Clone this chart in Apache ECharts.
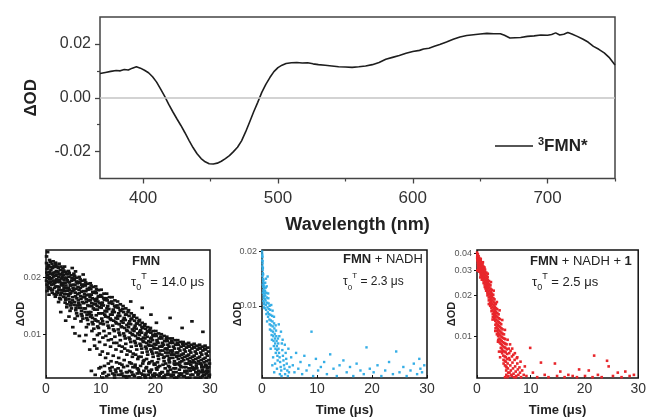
<!DOCTYPE html>
<html><head><meta charset="utf-8">
<script src="https://cdn.jsdelivr.net/npm/echarts@6/dist/echarts.min.js"></script>
<style>html,body{margin:0;padding:0;background:#fff}#c{width:649px;height:418px}</style>
</head><body><div id="c"></div>
<script>
const FONT = 'Liberation Sans, Arial, Helvetica, sans-serif';

// Top panel: transient absorption spectrum of 3FMN*  [wavelength nm, ΔOD]
const spectrum = [[368,0.0090],[372,0.0094],[376,0.0098],[380,0.0101],[383,0.0100],[386,0.0105],[389,0.0103],[392,0.0110],[395,0.0115],[398,0.0110],[401,0.0102],[404,0.0093],[407,0.0078],[410,0.0058],[413,0.0032],[416,0.0005],[419,-0.0025],[422,-0.0052],[425,-0.0078],[428,-0.0103],[431,-0.0130],[434,-0.0158],[437,-0.0185],[440,-0.0208],[443,-0.0226],[446,-0.0238],[449,-0.0245],[452,-0.0246],[455,-0.0243],[458,-0.0236],[461,-0.0226],[464,-0.0215],[467,-0.0200],[470,-0.0184],[473,-0.0160],[476,-0.0127],[479,-0.0090],[482,-0.0052],[485,-0.0017],[488,0.0020],[491,0.0050],[494,0.0075],[497,0.0097],[500,0.0112],[503,0.0121],[506,0.0127],[510,0.0130],[514,0.0131],[518,0.0129],[522,0.0130],[526,0.0126],[530,0.0123],[535,0.0121],[540,0.0118],[545,0.0115],[550,0.0114],[555,0.0113],[560,0.0115],[565,0.0118],[570,0.0123],[575,0.0131],[580,0.0143],[585,0.0150],[590,0.0157],[595,0.0165],[600,0.0172],[605,0.0176],[608,0.0181],[612,0.0184],[616,0.0191],[620,0.0198],[625,0.0207],[630,0.0217],[635,0.0226],[640,0.0231],[645,0.0234],[650,0.0237],[655,0.0239],[660,0.0238],[665,0.0238],[668,0.0232],[672,0.0222],[676,0.0223],[680,0.0224],[685,0.0228],[690,0.0230],[695,0.0233],[700,0.0232],[703,0.0235],[706,0.0241],[709,0.0233],[712,0.0236],[715,0.0242],[718,0.0237],[722,0.0228],[726,0.0218],[730,0.0207],[734,0.0191],[738,0.0180],[742,0.0167],[746,0.0148],[750,0.0122]];
const spectrumXMajor = [400,500,600,700];
const spectrumXMinor = [450,550,650,750];
const spectrumYMajor = [-0.02,0,0.02];
const spectrumYMinor = [-0.01,0.01];

// Bottom panels: decay traces [time µs, ΔOD]
const decayXTicks = [0,10,20,30];
const fmnYTicks = [0.01,0.02];
const fmnNadhYTicks = [0.01,0.02];
const fmnNadhCatYTicks = [0.01,0.02,0.03,0.04];

const fmnDecay = [[0.1,0.0238],[0.2,0.0221],[0.3,0.0205],[0.1,0.0192],[0.4,0.0178],[0.2,0.0169],[0.5,0.0229],[0.6,0.0213],[0.3,0.0199],[0.7,0.0186],[0.5,0.0174],[0.8,0.0241],[0.9,0.0218],[0.6,0.0201],[0.9,0.0189],[1.0,0.0171],[0.4,0.0232],[0.8,0.0209],[0.7,0.0195],[0.2,0.0183],[0.1,0.0258],[0.3,0.0272],
[1.1,0.0235],[1.2,0.0224],[1.3,0.0211],[1.1,0.0198],[1.4,0.0184],[1.2,0.0172],[1.5,0.0163],[1.6,0.0227],[1.7,0.0204],[1.5,0.0192],[1.8,0.0179],[1.9,0.0216],[1.6,0.0187],[2.0,0.0168],[1.3,0.0243],[1.8,0.0232],[1.4,0.0202],[1.9,0.0195],[1.7,0.0158],
[2.1,0.0228],[2.2,0.0214],[2.3,0.0201],[2.1,0.0189],[2.4,0.0177],[2.2,0.0166],[2.5,0.0155],[2.6,0.0219],[2.7,0.0207],[2.5,0.0194],[2.8,0.0183],[2.9,0.0171],[2.6,0.0161],[3.0,0.0212],[2.4,0.0236],[2.8,0.0197],[2.3,0.0148],[2.9,0.0186],
[3.1,0.0223],[3.2,0.0206],[3.3,0.0193],[3.1,0.0181],[3.4,0.0169],[3.2,0.0158],[3.5,0.0147],[3.6,0.0214],[3.7,0.0199],[3.5,0.0187],[3.8,0.0175],[3.9,0.0163],[3.6,0.0152],[4.0,0.0208],[3.4,0.0228],[3.8,0.0139],[3.3,0.0176],[3.9,0.0193],
[4.1,0.0216],[4.2,0.0201],[4.3,0.0188],[4.1,0.0176],[4.4,0.0164],[4.2,0.0153],[4.5,0.0142],[4.6,0.0205],[4.7,0.0192],[4.5,0.0181],[4.8,0.0169],[4.9,0.0157],[4.6,0.0146],[5.0,0.0197],[4.4,0.0133],[4.8,0.0224],[4.3,0.0172],
[5.1,0.0209],[5.2,0.0194],[5.3,0.0182],[5.1,0.0171],[5.4,0.0159],[5.2,0.0148],[5.5,0.0138],[5.6,0.0199],[5.7,0.0186],[5.5,0.0174],[5.8,0.0163],[5.9,0.0151],[5.6,0.0129],[6.0,0.0189],[5.4,0.0215],[5.8,0.0142],[5.3,0.0121],
[6.1,0.0201],[6.2,0.0187],[6.3,0.0176],[6.1,0.0165],[6.4,0.0154],[6.2,0.0143],[6.5,0.0133],[6.6,0.0192],[6.7,0.0179],[6.5,0.0168],[6.8,0.0157],[6.9,0.0146],[6.6,0.0125],[7.0,0.0183],[6.4,0.0117],[6.8,0.0207],[6.3,0.0138],
[7.1,0.0194],[7.2,0.0181],[7.3,0.0169],[7.1,0.0158],[7.4,0.0148],[7.2,0.0137],[7.5,0.0127],[7.6,0.0185],[7.7,0.0172],[7.5,0.0161],[7.8,0.0151],[7.9,0.0141],[7.6,0.0119],[8.0,0.0176],[7.4,0.0109],[7.8,0.0131],[7.3,0.0099],
[8.1,0.0186],[8.2,0.0173],[8.3,0.0162],[8.1,0.0151],[8.4,0.0141],[8.2,0.0131],[8.5,0.0122],[8.6,0.0178],[8.7,0.0166],[8.5,0.0155],[8.8,0.0145],[8.9,0.0135],[8.6,0.0113],[9.0,0.0168],[8.4,0.0104],[8.8,0.0094],[8.3,0.0126],[8.9,0.0087],
[9.1,0.0179],[9.2,0.0165],[9.3,0.0154],[9.1,0.0144],[9.4,0.0135],[9.2,0.0126],[9.5,0.0117],[9.6,0.0171],[9.7,0.0159],[9.5,0.0149],[9.8,0.0139],[9.9,0.0129],[9.6,0.0108],[10.0,0.0161],[9.4,0.0099],[9.8,0.0091],[9.3,0.0084],[9.9,0.0078],
[10.1,0.0172],[10.2,0.0158],[10.3,0.0147],[10.1,0.0138],[10.4,0.0129],[10.2,0.0121],[10.5,0.0113],[10.6,0.0164],[10.7,0.0152],[10.5,0.0142],[10.8,0.0133],[10.9,0.0124],[10.6,0.0104],[11.0,0.0155],[10.4,0.0096],[10.8,0.0088],[10.3,0.0081],[10.9,0.0075],[10.7,0.0068],
[11.1,0.0164],[11.2,0.0151],[11.3,0.0141],[11.1,0.0132],[11.4,0.0123],[11.2,0.0116],[11.5,0.0108],[11.6,0.0157],[11.7,0.0146],[11.5,0.0136],[11.8,0.0127],[11.9,0.0119],[11.6,0.0101],[12.0,0.0149],[11.4,0.0093],[11.8,0.0086],[11.3,0.0079],[11.9,0.0072],[11.7,0.0066],
[12.1,0.0157],[12.2,0.0145],[12.3,0.0135],[12.1,0.0127],[12.4,0.0118],[12.2,0.0111],[12.5,0.0104],[12.6,0.0151],[12.7,0.0139],[12.5,0.0131],[12.8,0.0122],[12.9,0.0114],[12.6,0.0097],[13.0,0.0142],[12.4,0.0090],[12.8,0.0083],[12.3,0.0077],[12.9,0.0071],[12.7,0.0065],[12.2,0.0062],
[13.1,0.0149],[13.2,0.0138],[13.3,0.0129],[13.1,0.0121],[13.4,0.0113],[13.2,0.0106],[13.5,0.0099],[13.6,0.0144],[13.7,0.0133],[13.5,0.0125],[13.8,0.0117],[13.9,0.0109],[13.6,0.0093],[14.0,0.0136],[13.4,0.0087],[13.8,0.0081],[13.3,0.0075],[13.9,0.0069],[13.7,0.0064],[13.2,0.0061],
[14.1,0.0141],[14.2,0.0131],[14.3,0.0122],[14.1,0.0115],[14.4,0.0108],[14.2,0.0101],[14.5,0.0095],[14.6,0.0137],[14.7,0.0127],[14.5,0.0119],[14.8,0.0112],[14.9,0.0104],[14.6,0.0089],[15.0,0.0131],[14.4,0.0084],[14.8,0.0078],[14.3,0.0073],[14.9,0.0068],[14.7,0.0063],[14.2,0.0060],
[15.1,0.0134],[15.2,0.0125],[15.3,0.0117],[15.1,0.0109],[15.4,0.0102],[15.2,0.0096],[15.5,0.0091],[15.6,0.0129],[15.7,0.0121],[15.5,0.0113],[15.8,0.0106],[15.9,0.0099],[15.6,0.0086],[16.0,0.0124],[15.4,0.0081],[15.8,0.0076],[15.3,0.0071],[15.9,0.0067],[15.7,0.0063],[15.2,0.0060],[15.5,0.0149],
[16.1,0.0126],[16.2,0.0118],[16.3,0.0111],[16.1,0.0104],[16.4,0.0098],[16.2,0.0092],[16.5,0.0087],[16.6,0.0122],[16.7,0.0114],[16.5,0.0107],[16.8,0.0101],[16.9,0.0095],[16.6,0.0083],[17.0,0.0117],[16.4,0.0078],[16.8,0.0074],[16.3,0.0069],[16.9,0.0065],[16.7,0.0062],[16.2,0.0060],
[17.1,0.0119],[17.2,0.0112],[17.3,0.0105],[17.1,0.0099],[17.4,0.0094],[17.2,0.0089],[17.5,0.0084],[17.6,0.0115],[17.7,0.0108],[17.5,0.0102],[17.8,0.0096],[17.9,0.0091],[17.6,0.0080],[18.0,0.0111],[17.4,0.0076],[17.8,0.0072],[17.3,0.0068],[17.9,0.0064],[17.7,0.0061],[17.2,0.0059],[17.6,0.0138],
[18.1,0.0113],[18.2,0.0107],[18.3,0.0101],[18.1,0.0095],[18.4,0.0090],[18.2,0.0086],[18.5,0.0081],[18.6,0.0109],[18.7,0.0103],[18.5,0.0097],[18.8,0.0092],[18.9,0.0087],[18.6,0.0078],[19.0,0.0105],[18.4,0.0074],[18.8,0.0070],[18.3,0.0066],[18.9,0.0063],[18.7,0.0061],[18.2,0.0059],
[19.1,0.0108],[19.2,0.0102],[19.3,0.0096],[19.1,0.0091],[19.4,0.0087],[19.2,0.0083],[19.5,0.0079],[19.6,0.0104],[19.7,0.0098],[19.5,0.0093],[19.8,0.0089],[19.9,0.0084],[19.6,0.0076],[20.0,0.0100],[19.4,0.0072],[19.8,0.0069],[19.3,0.0065],[19.9,0.0062],[19.7,0.0060],[19.2,0.0127],
[20.1,0.0104],[20.2,0.0098],[20.3,0.0093],[20.1,0.0088],[20.4,0.0084],[20.2,0.0080],[20.5,0.0077],[20.6,0.0101],[20.7,0.0095],[20.5,0.0090],[20.8,0.0086],[20.9,0.0082],[20.6,0.0074],[21.0,0.0097],[20.4,0.0071],[20.8,0.0068],[20.3,0.0065],[20.9,0.0062],[20.7,0.0060],[20.2,0.0115],
[21.1,0.0100],[21.2,0.0095],[21.3,0.0090],[21.1,0.0086],[21.4,0.0082],[21.2,0.0078],[21.5,0.0075],[21.6,0.0098],[21.7,0.0092],[21.5,0.0088],[21.8,0.0084],[21.9,0.0080],[21.6,0.0072],[22.0,0.0094],[21.4,0.0069],[21.8,0.0066],[21.3,0.0063],[21.9,0.0061],[21.7,0.0059],
[22.1,0.0097],[22.2,0.0092],[22.3,0.0088],[22.1,0.0084],[22.4,0.0080],[22.2,0.0077],[22.5,0.0073],[22.6,0.0095],[22.7,0.0090],[22.5,0.0086],[22.8,0.0082],[22.9,0.0078],[22.6,0.0071],[23.0,0.0092],[22.4,0.0068],[22.8,0.0065],[22.3,0.0062],[22.9,0.0060],[22.7,0.0122],
[23.1,0.0095],[23.2,0.0090],[23.3,0.0086],[23.1,0.0082],[23.4,0.0078],[23.2,0.0075],[23.5,0.0072],[23.6,0.0093],[23.7,0.0088],[23.5,0.0084],[23.8,0.0080],[23.9,0.0076],[23.6,0.0069],[24.0,0.0090],[23.4,0.0066],[23.8,0.0063],[23.3,0.0061],[23.9,0.0059],
[24.1,0.0093],[24.2,0.0088],[24.3,0.0084],[24.1,0.0080],[24.4,0.0077],[24.2,0.0074],[24.5,0.0071],[24.6,0.0091],[24.7,0.0086],[24.5,0.0082],[24.8,0.0078],[24.9,0.0075],[24.6,0.0068],[25.0,0.0089],[24.4,0.0065],[24.8,0.0062],[24.3,0.0060],[24.9,0.0108],
[25.1,0.0091],[25.2,0.0087],[25.3,0.0083],[25.1,0.0079],[25.4,0.0076],[25.2,0.0073],[25.5,0.0070],[25.6,0.0089],[25.7,0.0085],[25.5,0.0081],[25.8,0.0077],[25.9,0.0074],[25.6,0.0067],[26.0,0.0087],[25.4,0.0064],[25.8,0.0062],[25.3,0.0060],
[26.1,0.0090],[26.2,0.0086],[26.3,0.0082],[26.1,0.0078],[26.4,0.0075],[26.2,0.0072],[26.5,0.0069],[26.6,0.0088],[26.7,0.0084],[26.5,0.0080],[26.8,0.0076],[26.9,0.0073],[26.6,0.0066],[27.0,0.0086],[26.4,0.0064],[26.8,0.0061],[26.3,0.0059],[26.7,0.0117],
[27.1,0.0089],[27.2,0.0085],[27.3,0.0081],[27.1,0.0077],[27.4,0.0074],[27.2,0.0071],[27.5,0.0068],[27.6,0.0087],[27.7,0.0083],[27.5,0.0079],[27.8,0.0075],[27.9,0.0072],[27.6,0.0066],[28.0,0.0085],[27.4,0.0063],[27.8,0.0061],[27.3,0.0059],
[28.1,0.0088],[28.2,0.0084],[28.3,0.0080],[28.1,0.0076],[28.4,0.0073],[28.2,0.0070],[28.5,0.0067],[28.6,0.0086],[28.7,0.0082],[28.5,0.0078],[28.8,0.0074],[28.9,0.0071],[28.6,0.0065],[29.0,0.0084],[28.4,0.0063],[28.8,0.0061],[28.3,0.0059],[28.7,0.0103],
[29.1,0.0087],[29.2,0.0083],[29.3,0.0079],[29.1,0.0075],[29.4,0.0072],[29.2,0.0069],[29.5,0.0066],[29.6,0.0085],[29.7,0.0081],[29.5,0.0077],[29.8,0.0073],[29.9,0.0070],[29.6,0.0064],[29.4,0.0062],[29.8,0.0060],[29.3,0.0059],
[0.15,0.0212],[0.35,0.0226],[0.45,0.0188],[0.55,0.0162],[0.65,0.0247],[0.75,0.0176],[0.85,0.0196],[0.95,0.0226],[1.05,0.0183],[1.15,0.0166],[1.25,0.0207],[1.35,0.0191],[1.45,0.0229],[1.55,0.0176],[1.65,0.0213],[1.75,0.0239],[1.85,0.0162],[1.95,0.0207],[2.05,0.0194],[2.15,0.0179],[2.25,0.0225],[2.35,0.0172],[2.45,0.0208],[2.55,0.0189],[2.65,0.0153],[2.75,0.0228],[2.85,0.0166],[2.95,0.0201],[3.05,0.0186],[3.15,0.0171],[3.25,0.0217],[3.35,0.0163],[3.45,0.0199],[3.55,0.0156],[3.65,0.0181],[3.75,0.0208],[3.85,0.0144],[3.95,0.0170],[4.05,0.0189],[4.15,0.0159],[4.25,0.0211],[4.35,0.0148],[4.45,0.0182],[4.55,0.0166],[4.65,0.0137],[4.75,0.0198],[4.85,0.0151],[4.95,0.0176],[5.05,0.0183],[5.15,0.0143],[5.25,0.0203],[5.35,0.0166],[5.45,0.0134],[5.55,0.0190],[5.65,0.0155],[5.75,0.0125],[5.85,0.0178],[5.95,0.0146],[6.05,0.0172],[6.15,0.0138],[6.25,0.0195],[6.35,0.0159],[6.45,0.0128],[6.55,0.0183],[6.65,0.0148],[6.75,0.0121],[6.85,0.0169],[6.95,0.0137],[7.05,0.0163],[7.15,0.0131],[7.25,0.0188],[7.35,0.0153],[7.45,0.0122],[7.55,0.0174],[7.65,0.0142],[7.75,0.0113],[7.85,0.0162],[7.95,0.0128],[8.05,0.0157],[8.15,0.0124],[8.25,0.0181],[8.35,0.0146],[8.45,0.0116],[8.55,0.0167],[8.65,0.0137],[8.75,0.0107],[8.85,0.0153],[8.95,0.0120],[9.05,0.0150],[9.15,0.0118],[9.25,0.0173],[9.35,0.0141],[9.45,0.0110],[9.55,0.0158],[9.65,0.0129],[9.75,0.0101],[9.85,0.0146],[9.95,0.0114],
[10.15,0.0143],[10.35,0.0117],[10.55,0.0155],[10.75,0.0127],[10.95,0.0098],[11.15,0.0137],[11.35,0.0111],[11.55,0.0147],[11.75,0.0121],[11.95,0.0094],[12.15,0.0131],[12.35,0.0106],[12.55,0.0141],[12.75,0.0116],[12.95,0.0090],[13.15,0.0125],[13.35,0.0102],[13.55,0.0134],[13.75,0.0110],[13.95,0.0086],[14.15,0.0119],[14.35,0.0098],[14.55,0.0127],[14.75,0.0105],[14.95,0.0082],[15.15,0.0114],[15.35,0.0094],[15.55,0.0120],[15.75,0.0100],[15.95,0.0079],[16.15,0.0108],[16.35,0.0090],[16.55,0.0114],[16.75,0.0095],[16.95,0.0076],[17.15,0.0103],[17.35,0.0087],[17.55,0.0109],[17.75,0.0092],[17.95,0.0073],[18.15,0.0099],[18.35,0.0084],[18.55,0.0104],[18.75,0.0088],[18.95,0.0071],[19.15,0.0095],[19.35,0.0081],[19.55,0.0099],[19.75,0.0085],[19.95,0.0069],
[8.3,0.0064],[9.0,0.0061],[9.7,0.0066],[10.4,0.0062],[11.1,0.0060],[11.8,0.0064],[12.5,0.0061],[13.2,0.0066],[13.9,0.0062],[14.6,0.0060],[15.3,0.0064],[16.0,0.0061],[16.7,0.0066],[17.4,0.0062],[18.1,0.0060],[18.8,0.0064],[19.5,0.0061],[20.2,0.0066],[20.9,0.0062],[21.6,0.0060],[22.3,0.0064],[23.0,0.0061],[23.7,0.0066],[24.4,0.0062],[25.1,0.0060],[25.8,0.0064],[26.5,0.0061],[27.2,0.0066],[27.9,0.0062],[28.6,0.0060],[29.3,0.0064],[29.9,0.0061],
[20.35,0.0091],[21.25,0.0087],[22.15,0.0083],[23.05,0.0080],[23.95,0.0077],[24.85,0.0072],[25.75,0.0070],[26.65,0.0071],[27.55,0.0070],[28.45,0.0069],[29.35,0.0068],[20.75,0.0079],[21.65,0.0076],[22.55,0.0075],[23.45,0.0070],[24.35,0.0069],[25.25,0.0067],[26.15,0.0066],[27.05,0.0065],[27.95,0.0064],[28.85,0.0063],[29.75,0.0067],
[3.6,0.0118],[4.9,0.0109],[6.1,0.0098],[7.0,0.0092],[5.3,0.0101],[8.0,0.0083],[2.7,0.0131],[4.2,0.0124],
[10.0,0.0067],[10.7,0.0063],[11.4,0.0070],[12.1,0.0067],[12.8,0.0063],[13.5,0.0070],[14.2,0.0067],[14.9,0.0063],[15.6,0.0070],[16.3,0.0067],[17.0,0.0063],[17.7,0.0070],[18.4,0.0067],[19.1,0.0063],[19.8,0.0070],[20.5,0.0067],[21.2,0.0063],[21.9,0.0070],[22.6,0.0067],[23.3,0.0063],[24.0,0.0070],[24.7,0.0067],[25.4,0.0063],[26.1,0.0070],[26.8,0.0067],[27.5,0.0063],[28.2,0.0070],[28.9,0.0067],[29.6,0.0063],
[10.35,0.0059],[11.45,0.0061],[12.55,0.0059],[13.65,0.0061],[14.75,0.0059],[15.85,0.0061],[16.95,0.0059],[18.05,0.0061],[19.15,0.0059],[20.25,0.0061],[21.35,0.0059],[22.45,0.0061],[23.55,0.0059],[24.65,0.0061],[25.75,0.0059],[26.85,0.0061],[27.95,0.0059],[29.05,0.0061]];

const fmnNadhDecay = [[0.02,0.0199],[0.05,0.0192],[0.08,0.0185],[0.03,0.0178],[0.1,0.0171],[0.06,0.0165],[0.12,0.0158],[0.15,0.0152],[0.09,0.0146],[0.18,0.0141],[0.2,0.0136],[0.14,0.0131],[0.22,0.0127],[0.25,0.0122],[0.17,0.0118],[0.28,0.0114],[0.3,0.0110],[0.24,0.0106],[0.33,0.0102],[0.35,0.0098],[0.04,0.0188],[0.11,0.0176],[0.16,0.0162],[0.21,0.0149],[0.26,0.0139],[0.31,0.0129],[0.36,0.0120],[0.4,0.0113],[0.44,0.0104],[0.48,0.0097],[0.38,0.0133],[0.42,0.0125],[0.46,0.0117],[0.5,0.0109],
[0.55,0.0121],[0.6,0.0114],[0.65,0.0107],[0.7,0.0101],[0.75,0.0095],[0.8,0.0090],[0.58,0.0134],[0.68,0.0126],[0.78,0.0118],[0.88,0.0111],[0.95,0.0104],[1.0,0.0098],[1.05,0.0092],[1.1,0.0087],[0.92,0.0082],[1.15,0.0110],[1.2,0.0103],[1.25,0.0096],[1.3,0.0090],[1.35,0.0084],[1.4,0.0079],[1.45,0.0074],[0.85,0.0128],[1.12,0.0117],[1.38,0.0100],[1.02,0.0145],[0.72,0.0141],
[1.5,0.0095],[1.55,0.0089],[1.6,0.0083],[1.65,0.0078],[1.7,0.0073],[1.75,0.0069],[1.8,0.0065],[1.85,0.0088],[1.9,0.0082],[1.95,0.0077],[2.0,0.0072],[2.05,0.0068],[2.1,0.0064],[2.15,0.0060],[2.2,0.0080],[2.25,0.0075],[2.3,0.0070],[2.35,0.0066],[2.4,0.0062],[2.45,0.0058],[2.5,0.0055],[2.55,0.0073],[2.6,0.0068],[2.65,0.0064],[2.7,0.0060],[2.75,0.0057],[2.8,0.0053],[2.85,0.0050],[2.9,0.0066],[2.95,0.0062],[1.68,0.0101],[1.92,0.0094],[2.18,0.0087],[2.48,0.0078],[1.58,0.0058],[2.02,0.0052],[2.38,0.0048],[2.72,0.0045],[2.22,0.0043],[1.88,0.0047],
[3.0,0.0058],[3.1,0.0055],[3.2,0.0052],[3.3,0.0049],[3.4,0.0046],[3.5,0.0044],[3.6,0.0062],[3.7,0.0057],[3.8,0.0053],[3.9,0.0050],[4.0,0.0047],[4.1,0.0045],[4.2,0.0042],[3.15,0.0068],[3.45,0.0072],[3.75,0.0065],[4.3,0.0055],[4.4,0.0051],[4.5,0.0048],[4.6,0.0044],[4.8,0.0058],[4.9,0.0043],[5.0,0.0046],[3.25,0.0042],[3.55,0.0041],[4.15,0.0061],[4.7,0.0041],[3.05,0.0079],
[5.3,0.0052],[5.6,0.0047],[5.9,0.0043],[6.2,0.0055],[6.6,0.0045],[7.0,0.0049],[7.3,0.0042],[7.7,0.0053],[8.1,0.0044],[8.6,0.0047],[9.0,0.0072],[9.3,0.0041],[9.8,0.0051],[10.2,0.0044],[10.7,0.0046],[11.3,0.0049],[11.8,0.0042],[12.4,0.0054],[13.0,0.0045],[13.6,0.0041],[14.1,0.0047],[14.8,0.0050],[15.4,0.0043],[16.0,0.0046],[16.6,0.0041],[17.2,0.0048],[17.9,0.0044],[18.5,0.0042],[19.0,0.0059],[19.6,0.0045],[20.3,0.0043],[21.0,0.0047],[21.7,0.0041],[22.4,0.0044],[23.1,0.0049],[23.8,0.0042],[24.4,0.0056],[25.0,0.0043],[25.7,0.0046],[26.3,0.0041],[27.0,0.0044],[27.6,0.0048],[28.2,0.0042],[28.6,0.0051],[28.8,0.0045],[29.1,0.0043],[29.5,0.0047]];

const fmnNadhCatDecay = [[0.02,0.0405],[0.05,0.0392],[0.08,0.0380],[0.1,0.0368],[0.12,0.0355],[0.15,0.0343],[0.18,0.0332],[0.2,0.0321],[0.22,0.0310],[0.04,0.0372],[0.09,0.0358],[0.14,0.0386],[0.25,0.0362],[0.28,0.0349],[0.3,0.0337],[0.33,0.0325],[0.35,0.0314],[0.38,0.0303],[0.4,0.0295],[0.43,0.0370],[0.45,0.0355],[0.48,0.0341],[0.06,0.0301],[0.16,0.0395],
[0.5,0.0360],[0.53,0.0347],[0.55,0.0334],[0.58,0.0322],[0.6,0.0311],[0.63,0.0300],[0.65,0.0289],[0.68,0.0278],[0.7,0.0352],[0.73,0.0339],[0.75,0.0327],[0.78,0.0315],[0.8,0.0304],[0.83,0.0293],[0.85,0.0282],[0.88,0.0271],[0.9,0.0343],[0.93,0.0330],[0.95,0.0318],[0.98,0.0306],[1.0,0.0262],[0.62,0.0268],
[1.02,0.0334],[1.05,0.0322],[1.08,0.0310],[1.1,0.0298],[1.13,0.0287],[1.15,0.0276],[1.18,0.0265],[1.2,0.0255],[1.23,0.0244],[1.25,0.0320],[1.28,0.0307],[1.3,0.0295],[1.33,0.0283],[1.35,0.0271],[1.38,0.0260],[1.4,0.0249],[1.43,0.0238],[1.45,0.0229],[1.5,0.0305],[1.53,0.0292],[1.55,0.0280],[1.58,0.0268],[1.6,0.0257],[1.63,0.0246],[1.65,0.0235],[1.68,0.0225],[1.7,0.0215],[1.75,0.0290],[1.78,0.0276],[1.8,0.0263],[1.83,0.0251],[1.85,0.0240],[1.88,0.0229],[1.9,0.0218],[1.93,0.0208],[1.95,0.0199],[1.98,0.0270],
[2.02,0.0258],[2.05,0.0246],[2.08,0.0234],[2.1,0.0223],[2.13,0.0212],[2.15,0.0202],[2.18,0.0192],[2.2,0.0183],[2.25,0.0252],[2.28,0.0239],[2.3,0.0227],[2.33,0.0216],[2.35,0.0205],[2.38,0.0195],[2.4,0.0185],[2.43,0.0176],[2.45,0.0167],[2.5,0.0235],[2.53,0.0222],[2.55,0.0210],[2.58,0.0199],[2.6,0.0189],[2.63,0.0179],[2.65,0.0170],[2.68,0.0161],[2.7,0.0153],[2.75,0.0218],[2.78,0.0205],[2.8,0.0194],[2.83,0.0183],[2.85,0.0173],[2.88,0.0164],[2.9,0.0155],[2.93,0.0146],[2.95,0.0139],
[3.02,0.0201],[3.05,0.0190],[3.08,0.0179],[3.1,0.0169],[3.13,0.0160],[3.15,0.0151],[3.18,0.0142],[3.2,0.0134],[3.25,0.0186],[3.28,0.0175],[3.3,0.0165],[3.33,0.0155],[3.35,0.0146],[3.38,0.0138],[3.4,0.0130],[3.43,0.0122],[3.45,0.0115],[3.5,0.0172],[3.53,0.0161],[3.55,0.0151],[3.58,0.0142],[3.6,0.0133],[3.63,0.0125],[3.65,0.0117],[3.68,0.0110],[3.7,0.0104],[3.75,0.0158],[3.78,0.0148],[3.8,0.0139],[3.83,0.0130],[3.85,0.0122],[3.88,0.0114],[3.9,0.0107],[3.93,0.0101],[3.95,0.0095],
[4.02,0.0145],[4.05,0.0136],[4.08,0.0127],[4.1,0.0119],[4.13,0.0111],[4.15,0.0104],[4.18,0.0097],[4.2,0.0091],[4.25,0.0134],[4.28,0.0125],[4.3,0.0117],[4.33,0.0109],[4.35,0.0102],[4.38,0.0095],[4.4,0.0089],[4.43,0.0083],[4.5,0.0123],[4.53,0.0115],[4.55,0.0107],[4.58,0.0100],[4.6,0.0093],[4.63,0.0087],[4.65,0.0081],[4.68,0.0076],[4.75,0.0113],[4.78,0.0105],[4.8,0.0098],[4.83,0.0091],[4.85,0.0085],[4.88,0.0079],[4.9,0.0073],[4.93,0.0068],[4.3,0.0071],[4.1,0.0078],
[5.02,0.0104],[5.05,0.0097],[5.08,0.0090],[5.1,0.0084],[5.13,0.0078],[5.15,0.0072],[5.18,0.0067],[5.2,0.0062],[5.25,0.0096],[5.28,0.0089],[5.3,0.0083],[5.33,0.0077],[5.35,0.0071],[5.38,0.0066],[5.4,0.0061],[5.43,0.0057],[5.5,0.0088],[5.55,0.0081],[5.6,0.0075],[5.65,0.0069],[5.7,0.0064],[5.75,0.0059],[5.8,0.0055],[5.85,0.0052],[5.9,0.0082],[5.95,0.0070],[5.45,0.0053],[5.22,0.0051],[5.68,0.0051],
[6.0,0.0076],[6.1,0.0068],[6.2,0.0062],[6.3,0.0057],[6.4,0.0053],[6.5,0.0072],[6.6,0.0065],[6.7,0.0059],[6.8,0.0054],[6.9,0.0051],[7.0,0.0068],[7.1,0.0061],[7.2,0.0056],[7.3,0.0052],[7.5,0.0064],[7.6,0.0058],[7.7,0.0053],[7.9,0.0060],[8.0,0.0055],[8.2,0.0051],[6.25,0.0079],[6.75,0.0074],[7.4,0.0070],[8.4,0.0057],[8.7,0.0053],
[9.2,0.0052],[9.9,0.0083],[10.4,0.0055],[11.2,0.0051],[11.9,0.0065],[12.6,0.0053],[13.3,0.0051],[14.5,0.0064],[14.9,0.0052],[15.5,0.0056],[16.3,0.0051],[17.0,0.0053],[17.8,0.0052],[18.6,0.0051],[19.0,0.0058],[20.1,0.0052],[20.8,0.0057],[21.5,0.0051],[21.8,0.0073],[22.5,0.0053],[23.2,0.0051],[24.2,0.0067],[24.5,0.0061],[25.3,0.0052],[26.2,0.0055],[26.9,0.0051],[27.6,0.0056],[28.4,0.0052],[29.2,0.0053],
[0.3,0.0381],[0.7,0.0365],[1.1,0.0345],[0.9,0.0258],[1.4,0.0316],[1.6,0.0223],[2.0,0.0285],[2.2,0.0172],[2.6,0.0248],[2.9,0.0133],[3.1,0.0215],[3.4,0.0110],[3.7,0.0178],[3.9,0.0092],[4.2,0.0155],[4.45,0.0078],[4.7,0.0132],[4.95,0.0064],[5.2,0.0112],[5.5,0.0060],[5.7,0.0095],[6.15,0.0088],[6.55,0.0082],[7.05,0.0076],[7.5,0.0071],[8.1,0.0066],[8.9,0.0061],[6.05,0.0055],[6.45,0.0052],[7.25,0.0051]];

const chart = echarts.init(document.getElementById('c'), null, {renderer:'canvas'});

const panels = [
  {grid:{left:46, top:250, width:164, height:128}, range:[0.00587,0.0279], ticks:fmnYTicks, data:fmnDecay, color:'#141414', size:[3.6,2.7], nameGap:20},
  {grid:{left:262, top:250, width:165, height:128}, range:[0.0040,0.0203], ticks:fmnNadhYTicks, data:fmnNadhDecay, color:'#35aee6', size:2.4, nameGap:19},
  {grid:{left:477, top:250, width:165, height:128}, range:[0.00503,0.0423], ticks:fmnNadhCatYTicks, data:fmnNadhCatDecay, color:'#e8262b', size:2.6, nameGap:20}
];

const grids = [{left:100, top:17, width:515, height:161.5, show:true, borderColor:'#444', borderWidth:1.5, backgroundColor:'transparent'}];
const xAxes = [
  {gridIndex:0, type:'value', min:368, max:750, position:'bottom',
   axisLine:{show:false, onZero:false}, splitLine:{show:false},
   axisTick:{show:true, customValues:spectrumXMajor, length:5, lineStyle:{color:'#444', width:1.3}},
   axisLabel:{customValues:spectrumXMajor, fontSize:17, color:'#333', margin:11, fontFamily:FONT},
   name:'Wavelength (nm)', nameLocation:'middle', nameGap:38, nameMoveOverlap:false,
   nameTextStyle:{fontSize:18, fontWeight:'bold', color:'#222', fontFamily:FONT}},
  {gridIndex:0, type:'value', min:368, max:750, position:'bottom',
   axisLine:{show:false, onZero:false}, splitLine:{show:false}, axisLabel:{show:false},
   axisTick:{show:true, customValues:spectrumXMinor, length:3, lineStyle:{color:'#444', width:1.2}}}
];
const yAxes = [
  {gridIndex:0, type:'value', min:-0.03, max:0.03, position:'left',
   axisLine:{show:false, onZero:false}, splitLine:{show:false},
   axisTick:{show:true, customValues:spectrumYMajor, length:5, lineStyle:{color:'#444', width:1.3}},
   axisLabel:{customValues:spectrumYMajor, formatter:v=>v.toFixed(2), fontSize:16, color:'#333', margin:9, fontFamily:FONT},
   name:'\u0394OD', nameLocation:'middle', nameRotate:90, nameGap:60, nameMoveOverlap:false,
   nameTextStyle:{fontSize:17, fontWeight:'bold', color:'#222', fontFamily:FONT}},
  {gridIndex:0, type:'value', min:-0.03, max:0.03, position:'left',
   axisLine:{show:false, onZero:false}, splitLine:{show:false}, axisLabel:{show:false},
   axisTick:{show:true, customValues:spectrumYMinor, length:3, lineStyle:{color:'#444', width:1.2}}}
];
const series = [{
  name:'FMN3', type:'line', xAxisIndex:0, yAxisIndex:0, data:spectrum, showSymbol:false, symbol:'none',
  lineStyle:{color:'#1e1e1e', width:1.6}, itemStyle:{color:'#1e1e1e'}, smooth:false,
  markLine:{silent:true, symbol:'none', label:{show:false}, animation:false,
    lineStyle:{color:'#c4c4c4', width:1.5, type:'solid'}, data:[{yAxis:0}]}
}];

panels.forEach((p, i) => {
  grids.push(Object.assign({show:true, borderColor:'#111', borderWidth:1.5, backgroundColor:'transparent'}, p.grid));
  const gi = i + 1;
  xAxes.push({gridIndex:gi, type:'value', min:0, max:30, interval:10, position:'bottom',
    axisLine:{show:false, onZero:false}, splitLine:{show:false},
    axisTick:{show:true, length:3, inside:true, lineStyle:{color:'#111'}},
    axisLabel:{customValues:decayXTicks, fontSize:14, color:'#333', margin:4, fontFamily:FONT},
    name:'Time (\u03bcs)', nameLocation:'middle', nameGap:26, nameMoveOverlap:false,
    nameTextStyle:{fontSize:13, fontWeight:'bold', color:'#222', fontFamily:FONT}});
  const logIdx = yAxes.length;
  yAxes.push({gridIndex:gi, type:'log', logBase:10, min:p.range[0], max:p.range[1], position:'left', show:false,
    axisLine:{onZero:false}});
  yAxes.push({gridIndex:gi, type:'value', min:Math.log10(p.range[0]), max:Math.log10(p.range[1]), position:'left', offset:0,
    axisLine:{show:false, onZero:false}, splitLine:{show:false},
    axisTick:{show:true, customValues:p.ticks.map(v=>Math.log10(v)), length:3, lineStyle:{color:'#111'}},
    axisLabel:{customValues:p.ticks.map(v=>Math.log10(v)), formatter:v=>Math.pow(10,v).toFixed(2),
      fontSize:9, color:'#555', margin:5, fontFamily:FONT},
    name:'\u0394OD', nameLocation:'middle', nameRotate:90, nameGap:p.nameGap, nameMoveOverlap:false,
    nameTextStyle:{fontSize:11, fontWeight:'bold', color:'#222', fontFamily:FONT}});
  series.push({type:'scatter', xAxisIndex:gi + 1, yAxisIndex:logIdx, data:p.data,
    symbol:'rect', symbolSize:p.size, itemStyle:{color:p.color, opacity:1}, silent:true, large:false});
});

function richText(left, top, text, size) {
  return {type:'text', left:left, top:top, silent:true, z:100,
    style:{text:text, fontFamily:FONT, fontSize:size, fill:'#222',
      rich:{
        b:{fontSize:size, fontWeight:'bold', fontFamily:FONT, fill:'#222', lineHeight:20},
        t:{fontSize:size, fontFamily:FONT, fill:'#222', lineHeight:20},
        sub:{fontSize:Math.round(size*0.7), fontFamily:FONT, fill:'#222', verticalAlign:'bottom', lineHeight:12},
        sup:{fontSize:Math.round(size*0.7), fontFamily:FONT, fill:'#222', verticalAlign:'top', lineHeight:10}
      }}};
}

const graphics = [
  richText(132, 255, '{b|FMN}', 13),
  richText(131, 272, '{t|\u03c4}{sub|0}{sup|T}{t| = 14.0 \u03bcs}', 13),
  richText(343, 253, '{b|FMN}{t| + NADH}', 13),
  richText(343, 272, '{t|\u03c4}{sub|0}{sup|T}{t| = 2.3 \u03bcs}', 12),
  richText(530, 255, '{b|FMN}{t| + NADH + }{b|1}', 13),
  richText(532, 272, '{t|\u03c4}{sub|0}{sup|T}{t| = 2.5 \u03bcs}', 13)
];

chart.setOption({
  animation:false,
  backgroundColor:'#ffffff',
  textStyle:{fontFamily:FONT},
  grid:grids, xAxis:xAxes, yAxis:yAxes, series:series,
  legend:{data:['FMN3'], left:495, top:136, padding:0, icon:'rect', itemWidth:38, itemHeight:1.5, selectedMode:false,
    formatter:()=>'{s|3}{b|FMN*}',
    textStyle:{rich:{
      s:{fontSize:11, fontWeight:'bold', color:'#222', verticalAlign:'top', lineHeight:10, fontFamily:FONT},
      b:{fontSize:17, fontWeight:'bold', color:'#222', lineHeight:20, fontFamily:FONT}}}},
  graphic:graphics
});
</script></body></html>
